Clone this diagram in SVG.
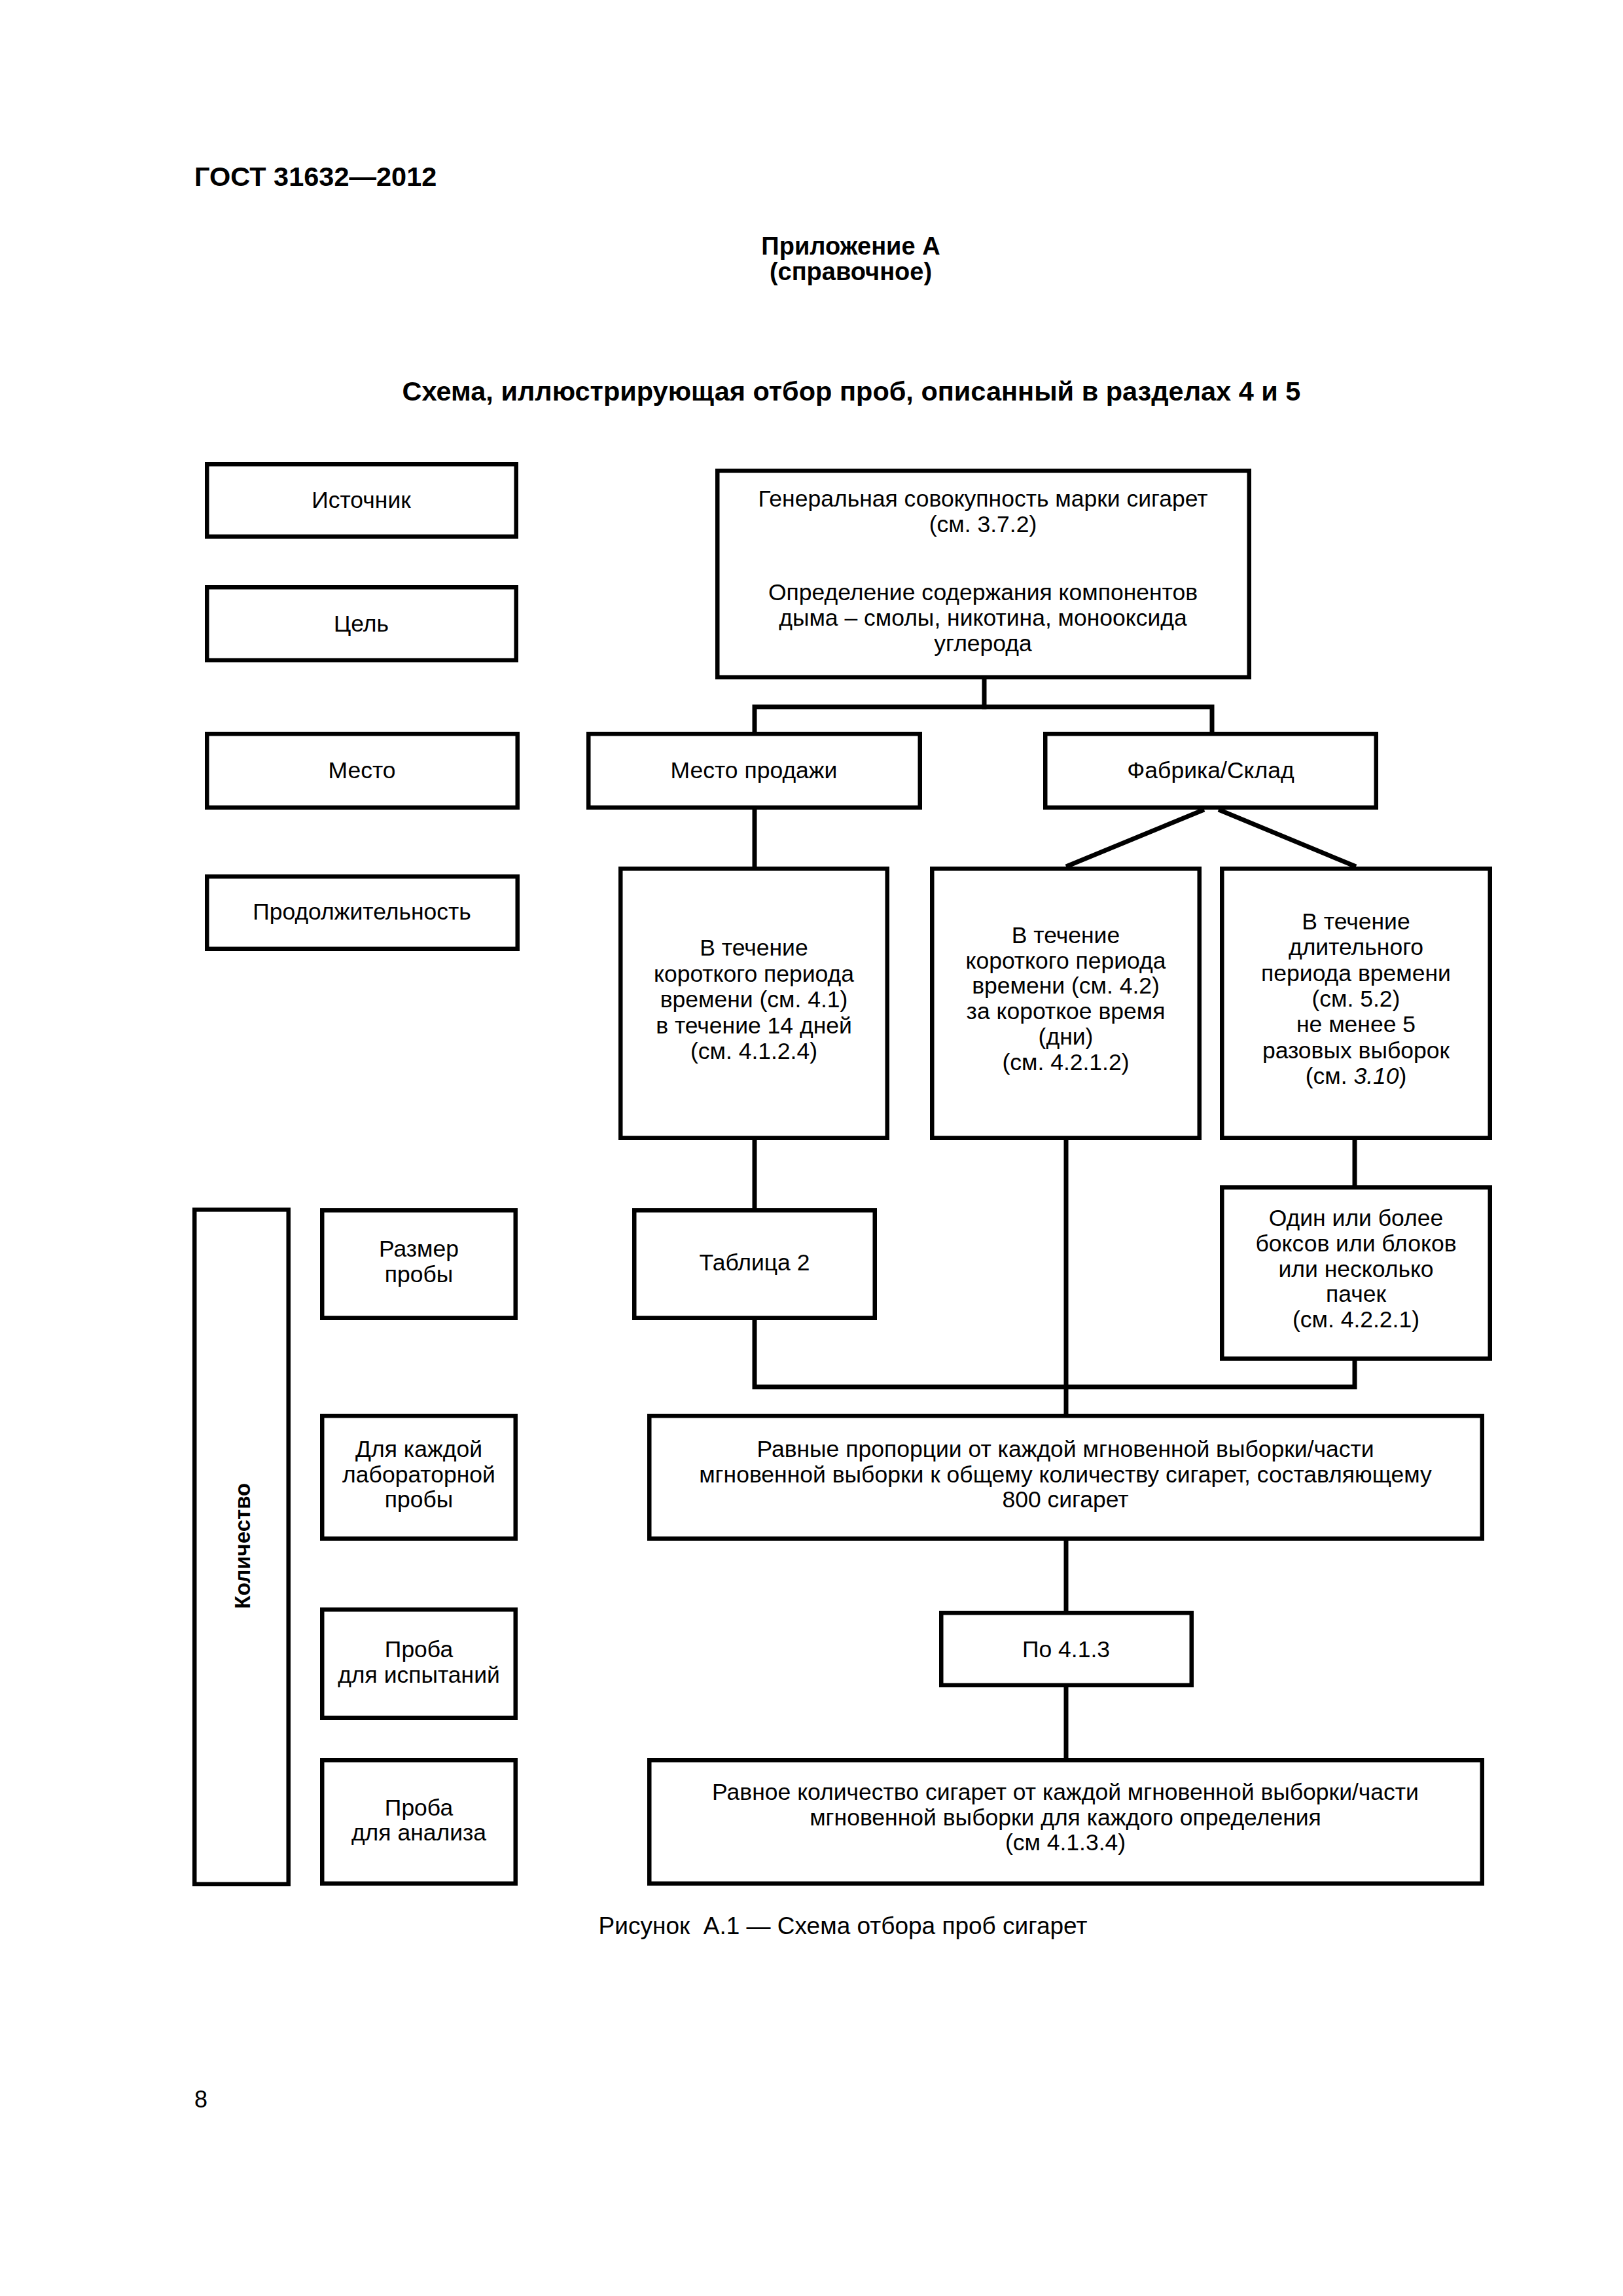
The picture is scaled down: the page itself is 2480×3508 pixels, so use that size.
<svg xmlns="http://www.w3.org/2000/svg" width="2480" height="3508" viewBox="0 0 2480 3508">
<style>
  .bg { fill: #ffffff; }
  .box { fill: #ffffff; stroke: #000000; stroke-width: 6.5; }
  .conn { fill: none; stroke: #000000; stroke-width: 7; stroke-linecap: square; }
  .t { font-family: "Liberation Sans", Arial, sans-serif; font-size: 35.5px; fill: #000000; text-anchor: middle; }
  .h { font-family: "Liberation Sans", Arial, sans-serif; font-size: 38px; font-weight: bold; fill: #000000; text-anchor: middle; }
  .hl { font-size: 41.5px; }
  .side { font-family: "Liberation Sans", Arial, sans-serif; font-size: 33px; font-weight: bold; fill: #000000; text-anchor: middle; }
  .cap { font-family: "Liberation Sans", Arial, sans-serif; font-size: 37px; fill: #000000; text-anchor: middle; }
  .it { font-style: italic; }
</style>
<rect class="bg" x="0" y="0" width="2480" height="3508"/>

<g id="header">
  <text class="h hl" x="297" y="284" style="text-anchor:start">ГОСТ 31632—2012</text>
  <text class="h" x="1300" y="389">Приложение А</text>
  <text class="h" x="1300" y="428">(справочное)</text>
  <text class="h hl" x="1301" y="612">Схема, иллюстрирующая отбор проб, описанный в разделах 4 и 5</text>
</g>

<g id="connectors">
  <polyline class="conn" points="1504,1038 1504,1080"/>
  <polyline class="conn" points="1153,1118 1153,1080 1852,1080 1852,1118"/>
  <polyline class="conn" points="1153,1237 1153,1324"/>
  <line class="conn" x1="1840" y1="1237" x2="1629" y2="1324" style="stroke-linecap:butt"/>
  <line class="conn" x1="1862" y1="1237" x2="2072" y2="1324" style="stroke-linecap:butt"/>
  <polyline class="conn" points="1153,1742 1153,1846"/>
  <polyline class="conn" points="1153,2017 1153,2119 2070,2119 2070,2079"/>
  <polyline class="conn" points="2070,1742 2070,1811"/>
  <polyline class="conn" points="1629,1742 1629,2160"/>
  <polyline class="conn" points="1629,2354 1629,2461"/>
  <polyline class="conn" points="1629,2578 1629,2686"/>
</g>

<g id="n-istochnik">
  <rect class="box" x="316.25" y="709.25" width="472.5" height="110.5"/>
  <text class="t" x="552" y="776">Источник</text>
</g>
<g id="n-cel">
  <rect class="box" x="316.25" y="897.25" width="472.5" height="111.5"/>
  <text class="t" x="552" y="965">Цель</text>
</g>
<g id="n-mesto">
  <rect class="box" x="316.25" y="1121.25" width="474.5" height="112.5"/>
  <text class="t" x="553" y="1189">Место</text>
</g>
<g id="n-prodolzhitelnost">
  <rect class="box" x="316.25" y="1339.25" width="474.5" height="110.5"/>
  <text class="t" x="553" y="1405">Продолжительность</text>
</g>
<g id="n-general">
  <rect class="box" x="1096.25" y="719.25" width="812.5" height="315.5"/>
  <text class="t" x="1502" y="774">Генеральная совокупность марки сигарет</text>
  <text class="t" x="1502" y="813">(см. 3.7.2)</text>
  <text class="t" x="1502" y="917">Определение содержания компонентов</text>
  <text class="t" x="1502" y="956">дыма – смолы, никотина, монооксида</text>
  <text class="t" x="1502" y="995">углерода</text>
</g>
<g id="n-mesto-prodazhi">
  <rect class="box" x="899.25" y="1121.25" width="506.5" height="112.5"/>
  <text class="t" x="1152" y="1189">Место продажи</text>
</g>
<g id="n-fabrika">
  <rect class="box" x="1597.25" y="1121.25" width="505.5" height="112.5"/>
  <text class="t" x="1850" y="1189">Фабрика/Склад</text>
</g>
<g id="n-short-41">
  <rect class="box" x="948.25" y="1327.25" width="407.5" height="411.5"/>
  <text class="t" x="1152" y="1460">В течение</text>
  <text class="t" x="1152" y="1499.5">короткого периода</text>
  <text class="t" x="1152" y="1539">времени (см. 4.1)</text>
  <text class="t" x="1152" y="1578.5">в течение 14 дней</text>
  <text class="t" x="1152" y="1618">(см. 4.1.2.4)</text>
</g>
<g id="n-short-42">
  <rect class="box" x="1424.25" y="1327.25" width="408.5" height="411.5"/>
  <text class="t" x="1628.5" y="1441">В течение</text>
  <text class="t" x="1628.5" y="1479.7">короткого периода</text>
  <text class="t" x="1628.5" y="1518.4">времени (см. 4.2)</text>
  <text class="t" x="1628.5" y="1557.1">за короткое время</text>
  <text class="t" x="1628.5" y="1595.8">(дни)</text>
  <text class="t" x="1628.5" y="1634.5">(см. 4.2.1.2)</text>
</g>
<g id="n-long-52">
  <rect class="box" x="1867.25" y="1327.25" width="409.5" height="411.5"/>
  <text class="t" x="2072" y="1420">В течение</text>
  <text class="t" x="2072" y="1459.3">длительного</text>
  <text class="t" x="2072" y="1498.6">периода времени</text>
  <text class="t" x="2072" y="1537.9">(см. 5.2)</text>
  <text class="t" x="2072" y="1577.2">не менее 5</text>
  <text class="t" x="2072" y="1616.5">разовых выборок</text>
  <text class="t" x="2072" y="1655.8">(см. <tspan class="it">3.10</tspan>)</text>
</g>
<g id="n-kolichestvo">
  <rect class="box" x="297.25" y="1848.25" width="143.5" height="1030.5"/>
  <text class="side" transform="translate(382,2362) rotate(-90)" x="0" y="0">Количество</text>
</g>
<g id="n-razmer">
  <rect class="box" x="492.25" y="1849.25" width="295.5" height="164.5"/>
  <text class="t" x="640" y="1920">Размер</text>
  <text class="t" x="640" y="1959">пробы</text>
</g>
<g id="n-tablica">
  <rect class="box" x="969.25" y="1849.25" width="367.5" height="164.5"/>
  <text class="t" x="1153" y="1941">Таблица 2</text>
</g>
<g id="n-odin">
  <rect class="box" x="1867.25" y="1814.25" width="409.5" height="261.5"/>
  <text class="t" x="2072" y="1873">Один или более</text>
  <text class="t" x="2072" y="1911.8">боксов или блоков</text>
  <text class="t" x="2072" y="1950.6">или несколько</text>
  <text class="t" x="2072" y="1989.4">пачек</text>
  <text class="t" x="2072" y="2028.2">(см. 4.2.2.1)</text>
</g>
<g id="n-dlya-kazhdoi">
  <rect class="box" x="492.25" y="2163.25" width="295.5" height="187.5"/>
  <text class="t" x="640" y="2226">Для каждой</text>
  <text class="t" x="640" y="2264.5">лабораторной</text>
  <text class="t" x="640" y="2303">пробы</text>
</g>
<g id="n-ravnye">
  <rect class="box" x="992.25" y="2163.25" width="1272.5" height="187.5"/>
  <text class="t" x="1628" y="2226">Равные пропорции от каждой мгновенной выборки/части</text>
  <text class="t" x="1628" y="2264.5">мгновенной выборки к общему количеству сигарет, составляющему</text>
  <text class="t" x="1628" y="2303">800 сигарет</text>
</g>
<g id="n-proba-ispytanii">
  <rect class="box" x="492.25" y="2459.25" width="295.5" height="165.5"/>
  <text class="t" x="640" y="2532">Проба</text>
  <text class="t" x="640" y="2571">для испытаний</text>
</g>
<g id="n-po-413">
  <rect class="box" x="1438.25" y="2464.25" width="382.5" height="110.5"/>
  <text class="t" x="1629" y="2532">По 4.1.3</text>
</g>
<g id="n-proba-analiza">
  <rect class="box" x="492.25" y="2689.25" width="295.5" height="188.5"/>
  <text class="t" x="640" y="2774">Проба</text>
  <text class="t" x="640" y="2812">для анализа</text>
</g>
<g id="n-ravnoe">
  <rect class="box" x="992.25" y="2689.25" width="1272.5" height="188.5"/>
  <text class="t" x="1628" y="2750">Равное количество сигарет от каждой мгновенной выборки/части</text>
  <text class="t" x="1628" y="2788.5">мгновенной выборки для каждого определения</text>
  <text class="t" x="1628" y="2827">(см 4.1.3.4)</text>
</g>

<g id="footer">
  <text class="cap" x="1288" y="2955" xml:space="preserve">Рисунок  А.1 — Схема отбора проб сигарет</text>
  <text class="cap" x="297" y="3220" style="text-anchor:start;font-size:36px">8</text>
</g>
</svg>
